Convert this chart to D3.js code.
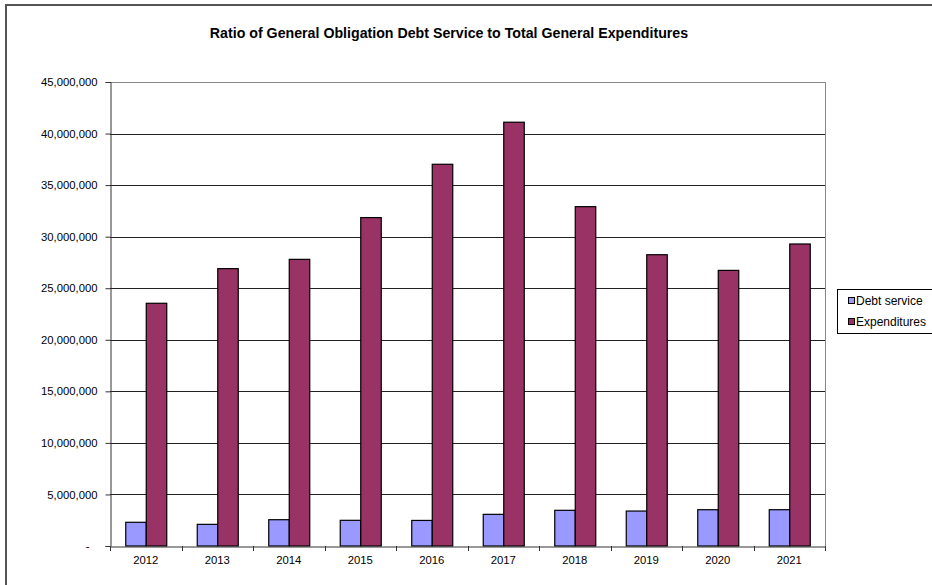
<!DOCTYPE html>
<html><head><meta charset="utf-8">
<script src="https://cdn.jsdelivr.net/npm/d3@7"></script>
<style>body{margin:0;background:#fff;}svg{display:block;font-family:"Liberation Sans",Arial,sans-serif;}</style>
</head><body><svg id="c" width="932" height="585"></svg>
<script>
const years = ["2012","2013","2014","2015","2016","2017","2018","2019","2020","2021"];
const debtService = [2300000,2100000,2550000,2490000,2480000,3070000,3460000,3390000,3520000,3520000];
const expenditures = [23540000,26900000,27800000,31850000,37020000,41100000,32910000,28250000,26730000,29290000];
const seriesNames = ["Debt service","Expenditures"];
const seriesColors = ["#9999FF","#993366"];
const yTicks = [0,5000000,10000000,15000000,20000000,25000000,30000000,35000000,40000000,45000000];

const svg = d3.select("#c");
const W=932,H=585;
svg.append("rect").attr("x",6).attr("y",5).attr("width",W+10).attr("height",H+10)
  .attr("fill","none").attr("stroke","#555").attr("stroke-width",2);

const m={l:110,r:825,t:82,b:546};
const x0=d3.scaleBand().domain(years).range([m.l,m.r]).paddingInner(0).paddingOuter(0);
const groupW = 41;
const x1=d3.scaleBand().domain(seriesNames).range([0,groupW]);
const y=d3.scaleLinear().domain([0,45000000]).range([m.b,m.t]);

svg.append("text").attr("x",449).attr("y",38).attr("text-anchor","middle")
  .attr("font-size",14.2).attr("font-weight","bold").text("Ratio of General Obligation Debt Service to Total General Expenditures");

svg.append("g").selectAll("line").data(yTicks.filter(d=>d>0)).join("line")
  .attr("x1",m.l).attr("x2",m.r).attr("y1",d=>Math.round(y(d))+0.5).attr("y2",d=>Math.round(y(d))+0.5)
  .attr("stroke",d=>d===45000000?"#888":"#222").attr("stroke-width",1);
svg.append("line").attr("x1",m.r+0.5).attr("x2",m.r+0.5).attr("y1",m.t).attr("y2",m.b+5).attr("stroke","#888");

const data=years.map((yr,i)=>({yr,vals:[debtService[i],expenditures[i]]}));
const g=svg.append("g").selectAll("g").data(data).join("g")
  .attr("transform",d=>`translate(${x0(d.yr)+(x0.bandwidth()-groupW)/2},0)`);
g.selectAll("rect").data(d=>d.vals.map((v,k)=>({v,k}))).join("rect")
  .attr("x",d=>x1(seriesNames[d.k])+0.5).attr("width",x1.bandwidth())
  .attr("y",d=>y(d.v)).attr("height",d=>m.b-y(d.v))
  .attr("fill",d=>seriesColors[d.k]).attr("stroke","#000").attr("stroke-width",1.2);

const ya=d3.axisLeft(y).tickValues(yTicks).tickSize(5).tickPadding(8)
  .tickFormat(d=>d===0?"-":d3.format(",")(d));
const yg=svg.append("g").attr("transform",`translate(${m.l+0.5},0)`).call(ya);
yg.selectAll("text").attr("font-size",11.3).attr("fill","#000").style("font-family","'Liberation Sans',Arial,sans-serif");
yg.select(".domain").attr("stroke","#333");
yg.selectAll(".tick line").attr("stroke","#333");
yg.selectAll(".tick").filter(d=>d===0).select("text").attr("dx",-8);

const xa=d3.axisBottom(x0).tickSize(0).tickPadding(9);
const xg=svg.append("g").attr("transform",`translate(0,${m.b+0.5})`).call(xa);
xg.select(".domain").attr("stroke","#333");
xg.selectAll("text").attr("font-size",11.3).attr("fill","#000").style("font-family","'Liberation Sans',Arial,sans-serif");
svg.append("g").selectAll("line").data(d3.range(years.length+1)).join("line")
  .attr("x1",i=>Math.round(m.l+i*x0.bandwidth())+0.5).attr("x2",i=>Math.round(m.l+i*x0.bandwidth())+0.5)
  .attr("y1",m.b).attr("y2",m.b+5).attr("stroke","#333");

const lg=svg.append("g");
lg.append("rect").attr("x",837.5).attr("y",289.5).attr("width",100).attr("height",44)
  .attr("fill","#fff").attr("stroke","#000");
seriesNames.forEach((n,i)=>{
  lg.append("rect").attr("x",848.5).attr("y",297.5+i*21).attr("width",6).attr("height",6)
    .attr("fill",seriesColors[i]).attr("stroke","#000");
  lg.append("text").attr("x",856).attr("y",305+i*21).attr("font-size",12).text(n);
});
</script></body></html>
